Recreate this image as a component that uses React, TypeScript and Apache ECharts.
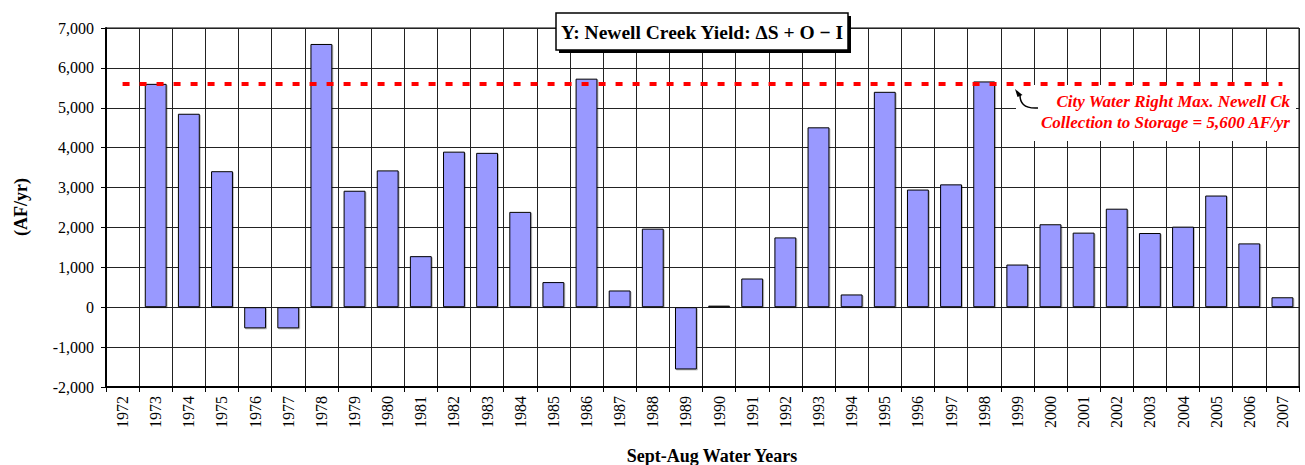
import React, { useEffect, useRef } from "react";
import * as echarts from "echarts";

const years: string[] = [
  "1972", "1973", "1974", "1975", "1976", "1977", "1978", "1979", "1980", "1981",
  "1982", "1983", "1984", "1985", "1986", "1987", "1988", "1989", "1990", "1991",
  "1992", "1993", "1994", "1995", "1996", "1997", "1998", "1999", "2000", "2001",
  "2002", "2003", "2004", "2005", "2006", "2007",
];

const yieldValues: (number | null)[] = [
  null, 5600, 4850, 3410, -530, -530, 6600, 2920, 3430, 1280,
  3900, 3870, 2390, 630, 5730, 420, 1970, -1560, 40, 720,
  1750, 4510, 320, 5400, 2950, 3080, 5660, 1070, 2080, 1870,
  2470, 1860, 2020, 2800, 1600, 250,
];

const waterRightMax = 5600;
const yTicks = { min: -2000, max: 7000, interval: 1000 };

const titleText = "Y: Newell Creek Yield: ΔS + O − I";
const noteLines = ["City Water Right Max. Newell Ck", "Collection to Storage = 5,600 AF/yr"];
const yAxisTitle = "(AF/yr)";
const xAxisTitle = "Sept-Aug Water Years";

const SERIF = "Liberation Serif";

export default function App() {
  const ref = useRef<HTMLDivElement>(null);
  useEffect(() => {
    if (!ref.current) return;
    const chart = echarts.init(ref.current, null, { renderer: "svg" });
    chart.setOption({
      animation: false,
      backgroundColor: "#fff",
      textStyle: { fontFamily: SERIF },
      grid: {
        left: 106, right: 6, top: 28, bottom: 78,
        show: true, borderColor: "#000", borderWidth: 1,
      },
      xAxis: {
        type: "category",
        data: years,
        boundaryGap: true,
        axisLine: { onZero: false, lineStyle: { color: "#000", width: 2 } },
        axisTick: { show: true, interval: 0, length: 5, lineStyle: { color: "#000", width: 1 } },
        axisLabel: {
          interval: 0, rotate: 90, margin: 9,
          fontFamily: SERIF, fontSize: 16, color: "#000",
        },
        splitLine: { show: true, interval: 0, lineStyle: { color: "#222", width: 1 } },
      },
      yAxis: {
        type: "value",
        min: yTicks.min, max: yTicks.max, interval: yTicks.interval,
        axisLine: { show: true, lineStyle: { color: "#000", width: 2 } },
        axisTick: { show: true, length: 5, lineStyle: { color: "#000" } },
        axisLabel: {
          margin: 12, fontFamily: SERIF, fontSize: 16, color: "#000",
          formatter: (v: number) => v.toLocaleString("en-US"),
        },
        splitLine: { show: true, lineStyle: { color: "#222", width: 1 } },
      },
      series: [
        {
          type: "bar",
          data: yieldValues,
          barCategoryGap: "34%",
          itemStyle: {
            color: "#9999FF", borderColor: "#000", borderWidth: 1,
            shadowColor: "rgba(0,0,0,0.25)", shadowOffsetX: 1, shadowOffsetY: 1, shadowBlur: 0,
          },
          markLine: {
            silent: true,
            symbol: ["none", "none"],
            label: { show: false },
            z: 5,
            lineStyle: { color: "#ff0000", width: 4, type: [7, 10] },
            data: [
              [
                { coord: [years[0], waterRightMax] },
                { coord: [years[years.length - 1], waterRightMax] },
              ],
            ],
          },
          z: 3,
        },
      ],
      graphic: [
        {
          type: "rect", z: 1, silent: true,
          shape: { x: 1016, y: 85, width: 280, height: 56 },
          style: { fill: "#fff" },
        },
        {
          type: "text", z: 10,
          style: {
            x: 1290, y: 101, text: noteLines[0], align: "right", verticalAlign: "middle",
            fontFamily: SERIF, fontSize: 17, fontWeight: "bold", fontStyle: "italic", fill: "#ff0000",
          },
        },
        {
          type: "text", z: 10,
          style: {
            x: 1290, y: 122, text: noteLines[1], align: "right", verticalAlign: "middle",
            fontFamily: SERIF, fontSize: 17, fontWeight: "bold", fontStyle: "italic", fill: "#ff0000",
          },
        },
        {
          type: "bezierCurve", z: 10,
          shape: { x1: 1038, y1: 108, x2: 1020, y2: 95, cpx1: 1023, cpy1: 109, cpx2: 1020, cpy2: 102 },
          style: { stroke: "#000", lineWidth: 1.5, fill: "none" },
        },
        {
          type: "polygon", z: 10,
          shape: { points: [[1015, 89], [1017.5, 97], [1022.5, 95]] },
          style: { fill: "#000" },
        },
        {
          type: "rect", z: 20,
          shape: { x: 559, y: 16, width: 292, height: 37 },
          style: { fill: "#000" },
        },
        {
          type: "rect", z: 21,
          shape: { x: 556, y: 13, width: 292, height: 37 },
          style: { fill: "#fff", stroke: "#000", lineWidth: 1.5 },
        },
        {
          type: "text", z: 22,
          style: {
            x: 702, y: 32, text: titleText, align: "center", verticalAlign: "middle",
            fontFamily: SERIF, fontSize: 19.5, fontWeight: "bold", fill: "#000",
          },
        },
        {
          type: "text", z: 10,
          rotation: Math.PI / 2, x: 20.5, y: 207,
          style: {
            x: 0, y: 0, text: yAxisTitle, align: "center", verticalAlign: "middle",
            fontFamily: SERIF, fontSize: 18, fontWeight: "bold", fill: "#000",
          },
        },
        {
          type: "text", z: 10,
          style: {
            x: 712, y: 456, text: xAxisTitle, align: "center", verticalAlign: "middle",
            fontFamily: SERIF, fontSize: 18, fontWeight: "bold", fill: "#000",
          },
        },
      ],
    });
    return () => chart.dispose();
  }, []);
  return (
    <div
      ref={ref}
      style={{ position: "fixed", left: 0, top: 0, width: 1305, height: 465 }}
    />
  );
}
